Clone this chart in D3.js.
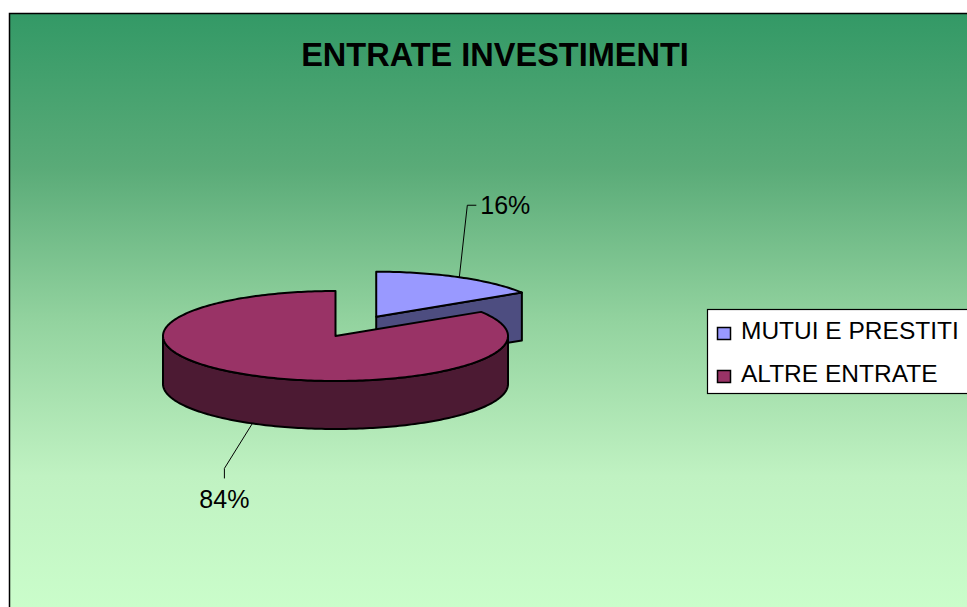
<!DOCTYPE html>
<html><head><meta charset="utf-8">
<script src="https://cdn.jsdelivr.net/npm/d3@7"></script>
<style>html,body{margin:0;padding:0;background:#fff;overflow:hidden}</style>
</head><body>
<svg id="chart" width="967" height="607"></svg>
<script>
const title = "ENTRATE INVESTIMENTI";
const categories = ["MUTUI E PRESTITI", "ALTRE ENTRATE"];
const values = [16, 84];
const labels = ["16%", "84%"];
const topColors = ["#9999ff", "#993366"];
const sideColors = ["#4d4d80", "#4c1a33"];
const explode = [0.49, 0];

const W = 967, H = 607;
const svg = d3.select("#chart");
const font = "'Liberation Sans', Arial, sans-serif";

const defs = svg.append("defs");
const grad = defs.append("linearGradient").attr("id", "bg").attr("x1", 0).attr("y1", 0).attr("x2", 0).attr("y2", 1);
[[0, "#339966"], [0.25, "#5aab78"], [0.5, "#93d39f"], [0.75, "#c0f2c2"], [1, "#ccffcc"]]
  .forEach(([o, c]) => grad.append("stop").attr("offset", o).attr("stop-color", c));

svg.append("rect").attr("x", 9.5).attr("y", 13.5).attr("width", W + 10).attr("height", H + 10)
  .attr("fill", "url(#bg)").attr("stroke", "#000").attr("stroke-width", 1.5);

svg.append("text").attr("x", 495).attr("y", 66).attr("text-anchor", "middle")
  .attr("font-family", font).attr("font-weight", "bold").attr("font-size", 32.5).text(title);

// 3D pie geometry
const cx = 335.5, cy = 336, rx = 172.5, ry = 45, depth = 48;
const pie = d3.pie().sort(null).value(d => d)(values);
const pt = (c, a, dz = 0) => [c[0] + rx * Math.sin(a), c[1] - ry * Math.cos(a) + dz];

function arcPts(c, a0, a1, dz) {
  const n = Math.max(2, Math.ceil(Math.abs(a1 - a0) / 0.02));
  return d3.range(n + 1).map(i => pt(c, a0 + (a1 - a0) * i / n, dz));
}
const line = d3.line();
const centers = pie.map((p, i) => {
  const mid = (p.startAngle + p.endAngle) / 2;
  const e = explode[i];
  return [cx + e * rx * Math.sin(mid), cy - e * ry * Math.cos(mid)];
});

const g = svg.append("g").attr("stroke", "#000").attr("stroke-width", 2).attr("stroke-linejoin", "round");

pie.forEach((p, i) => {
  const c = centers[i];
  const a0 = p.startAngle, a1 = p.endAngle;
  [a0, a1].forEach(a => {
    const s = Math.sin(a);
    const rim = pt(c, a);
    const visible = (a === a1 && s > 0.01) || (a === a0 && s < -0.01);
    if (visible) {
      g.append("path").attr("fill", sideColors[i])
        .attr("d", line([c, rim, [rim[0], rim[1] + depth], [c[0], c[1] + depth]]) + "Z");
    }
  });
  const w0 = Math.max(a0, Math.PI / 2), w1 = Math.min(a1, 3 * Math.PI / 2);
  if (w1 > w0) {
    const topArc = arcPts(c, w0, w1, 0);
    const botArc = arcPts(c, w1, w0, depth);
    g.append("path").attr("fill", sideColors[i]).attr("d", line(topArc.concat(botArc)) + "Z");
  }
  g.append("path").attr("fill", topColors[i]).attr("d", line([c].concat(arcPts(c, a0, a1, 0))) + "Z");
});

// labels with leader lines
const lg = svg.append("g").attr("font-family", font).attr("font-size", 25);
pie.forEach((p, i) => {
  const c = centers[i];
  const mid = (p.startAngle + p.endAngle) / 2;
  const front = Math.cos(mid) < 0;
  const s = pt(c, mid, front ? depth : 0);
  if (!front) {
    const e1 = [s[0] + 8, s[1] - 72], e2 = [e1[0] + 9, e1[1]];
    lg.append("path").attr("fill", "none").attr("stroke", "#000").attr("stroke-width", 1)
      .attr("d", line([s, e1, e2]));
    lg.append("text").attr("x", e2[0] + 4).attr("y", e2[1] + 9).text(labels[i]);
  } else {
    const e1 = [s[0] - 28, s[1] + 45], e2 = [e1[0], e1[1] + 10];
    lg.append("path").attr("fill", "none").attr("stroke", "#000").attr("stroke-width", 1)
      .attr("d", line([s, e1, e2]));
    lg.append("text").attr("x", e2[0]).attr("y", e2[1] + 30).attr("text-anchor", "middle").text(labels[i]);
  }
});

// legend
const leg = svg.append("g").attr("font-family", font).attr("font-size", 24.5);
leg.append("rect").attr("x", 707.5).attr("y", 309.5).attr("width", 300).attr("height", 84)
  .attr("fill", "#fff").attr("stroke", "#000").attr("stroke-width", 1.2);
categories.forEach((cName, i) => {
  const y = 339 + i * 43;
  leg.append("rect").attr("x", 717.5).attr("y", y - 11.5).attr("width", 13).attr("height", 12)
    .attr("fill", topColors[i]).attr("stroke", "#000").attr("stroke-width", 1.5);
  leg.append("text").attr("x", 741).attr("y", y).text(cName);
});
</script>
</body></html>
